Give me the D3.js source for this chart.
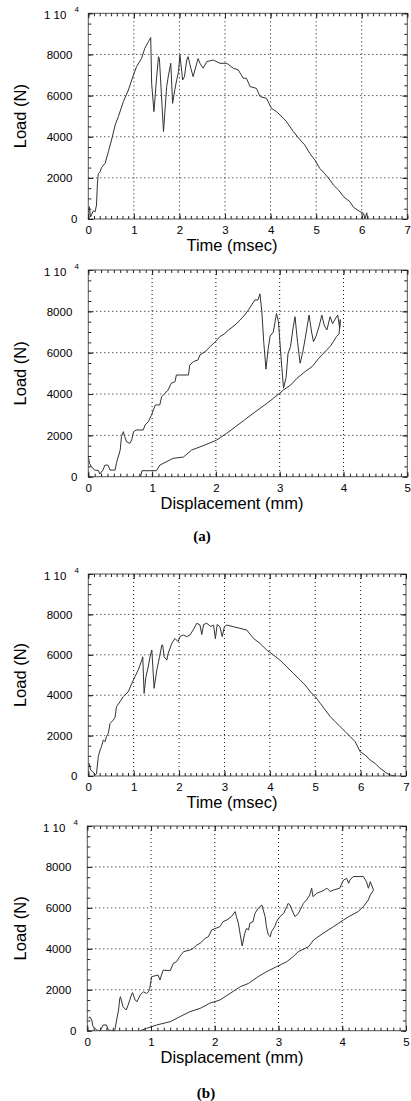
<!DOCTYPE html>
<html>
<head>
<meta charset="utf-8">
<script src="https://cdn.jsdelivr.net/npm/d3@7"></script>
<style>
  html, body { margin: 0; padding: 0; background: #fff; }
  svg { display: block; }
</style>
</head>
<body>
<svg id="chart" width="411" height="1101"></svg>
<script>
// ---- data: [x, load N] ----
var loadTicks = [0, 2000, 4000, 6000, 8000];

// (a) load vs time
var timeA = [[0,0],[0.02,600],[0.05,100],[0.11,400],[0.15,350],[0.18,680],[0.2,1730],[0.22,2200],
  [0.26,2300],[0.29,2500],[0.37,2710],[0.44,3270],[0.51,3840],[0.59,4570],[0.66,4980],[0.77,5710],
  [0.88,6270],[0.99,7000],[1.06,7410],[1.17,7810],[1.24,8300],[1.32,8620],[1.37,8820],[1.39,6600],
  [1.44,5220],[1.5,6900],[1.54,7890],[1.56,7800],[1.65,4250],[1.72,6440],[1.76,7000],[1.81,7570],
  [1.85,5620],[1.9,6300],[1.94,6760],[1.98,7160],[2.01,7980],[2.07,6760],[2.11,6920],[2.16,7730],
  [2.19,7890],[2.25,7330],[2.3,6920],[2.34,7250],[2.41,7800],[2.45,7570],[2.52,7330],[2.6,7650],
  [2.74,7730],[2.89,7570],[3.04,7570],[3.11,7450],[3.18,7330],[3.29,7250],[3.4,6840],[3.47,6840],
  [3.55,6440],[3.69,6350],[3.77,5950],[3.91,5870],[4.02,5380],[4.13,5220],[4.28,4900],[4.35,4730],
  [4.5,4250],[4.65,3840],[4.75,3600],[4.86,3190],[4.97,2870],[5.08,2460],[5.19,2200],[5.3,1900],
  [5.38,1650],[5.49,1410],[5.6,1090],[5.74,840],[5.82,570],[5.96,360],[6.04,280],[6.07,0],
  [6.11,300],[6.13,0]];

// (a) load vs displacement
var dispALoad = [[0,970],[0.02,645],[0.05,480],[0.1,320],[0.16,300],[0.18,130],[0.23,320],[0.26,560],
  [0.31,560],[0.34,320],[0.42,320],[0.44,645],[0.5,1290],[0.52,1940],[0.55,2180],[0.57,1940],
  [0.6,1690],[0.65,1610],[0.68,1780],[0.71,2180],[0.75,2260],[0.86,2260],[0.89,2500],[0.94,2660],
  [0.99,2980],[1.02,3230],[1.05,3470],[1.12,3470],[1.15,3870],[1.2,4030],[1.25,4190],[1.3,4520],
  [1.36,4600],[1.38,4920],[1.57,4920],[1.59,5400],[1.65,5570],[1.72,5650],[1.75,5890],[1.83,6050],
  [1.91,6290],[1.99,6530],[2.06,6770],[2.14,6930],[2.2,7100],[2.3,7340],[2.38,7580],[2.45,7820],
  [2.51,8070],[2.56,8310],[2.61,8550],[2.66,8550],[2.69,8850],[2.72,8000],[2.75,6500],[2.785,5200],
  [2.82,6200],[2.85,6800],[2.9,7000],[2.95,7900],[2.98,7500],[3.02,5800],[3.06,4280],[3.1,4800],
  [3.13,5950],[3.17,6300],[3.21,7200],[3.24,7740],[3.28,6500],[3.32,5490],[3.36,6000],[3.4,6700],
  [3.46,7820],[3.5,7000],[3.53,6530],[3.57,6800],[3.62,7300],[3.66,7820],[3.7,7300],[3.74,7100],
  [3.79,7740],[3.83,7400],[3.86,7580],[3.91,7820],[3.94,7180],[3.95,7600]];
var dispAUnload = [[3.95,7600],[3.93,6900],[3.89,6780],[3.84,6530],[3.79,6300],[3.74,6150],[3.61,5720],
  [3.51,5330],[3.4,5090],[3.27,4760],[3.17,4430],[3.06,4200],[3.0,4040],[2.9,3790],[2.8,3550],
  [2.6,3100],[2.45,2750],[2.3,2400],[2.17,2100],[2.01,1770],[1.8,1500],[1.62,1290],[1.49,950],
  [1.33,890],[1.12,560],[1.07,290],[0.84,290],[0.82,0]];

// (b) load vs time
var timeB = [[0,630],[0.02,630],[0.05,300],[0.1,215],[0.15,50],[0.18,100],[0.22,960],[0.26,1290],
  [0.29,1450],[0.33,1780],[0.37,1700],[0.4,1950],[0.44,2110],[0.48,2600],[0.55,2770],[0.59,2900],
  [0.62,3430],[0.7,3680],[0.77,3930],[0.88,4170],[0.96,4590],[1.03,4920],[1.1,5250],[1.18,5740],
  [1.2,5900],[1.23,4090],[1.27,4920],[1.32,5400],[1.36,5900],[1.4,6240],[1.45,4340],[1.51,5250],
  [1.57,5900],[1.62,6480],[1.64,6480],[1.67,5900],[1.73,5740],[1.76,6070],[1.84,6570],[1.91,6810],
  [1.98,6650],[2.02,6900],[2.09,6980],[2.17,6900],[2.24,6980],[2.31,7230],[2.39,7560],[2.46,7480],
  [2.5,7000],[2.54,7500],[2.61,7560],[2.7,7400],[2.76,7470],[2.8,6800],[2.84,7500],[2.9,7390],
  [2.95,6900],[3.0,7400],[3.05,7470],[3.2,7390],[3.34,7310],[3.49,7230],[3.64,6810],[3.78,6570],
  [3.93,6240],[4.08,5990],[4.22,5740],[4.37,5410],[4.52,5080],[4.67,4750],[4.78,4500],[4.89,4170],
  [5.0,3930],[5.11,3600],[5.22,3270],[5.33,2940],[5.44,2690],[5.55,2440],[5.66,2200],[5.77,1950],
  [5.88,1700],[5.99,1200],[6.1,1040],[6.21,790],[6.32,620],[6.43,380],[6.58,130],[6.65,50],[6.76,0]];

// (b) load vs displacement
var dispBLoad = [[0.016,600],[0.04,680],[0.07,520],[0.09,195],[0.15,30],[0.2,0],[0.25,280],[0.3,280],
  [0.33,30],[0.43,0],[0.46,520],[0.49,1010],[0.51,1580],[0.52,1660],[0.56,1170],[0.61,1010],
  [0.64,1250],[0.7,1820],[0.71,1860],[0.75,1500],[0.78,1420],[0.83,1750],[0.88,1900],[0.93,1820],
  [0.96,1900],[0.98,2070],[1.01,2640],[1.11,2720],[1.14,2480],[1.19,2960],[1.3,2930],[1.35,3290],
  [1.4,3370],[1.45,3620],[1.51,3860],[1.61,3940],[1.66,4020],[1.72,4190],[1.77,4270],[1.85,4510],
  [1.9,4590],[1.95,4920],[2.08,5080],[2.13,5330],[2.19,5410],[2.26,5570],[2.32,5820],[2.34,5570],
  [2.37,5250],[2.4,4680],[2.43,4140],[2.47,4760],[2.5,5000],[2.53,4920],[2.55,5250],[2.6,5330],
  [2.63,5730],[2.68,5980],[2.74,6140],[2.76,5900],[2.79,5570],[2.81,5080],[2.84,4680],[2.87,4590],
  [2.89,4840],[2.94,5080],[2.97,5330],[3.02,5570],[3.08,5730],[3.13,6060],[3.15,6220],[3.18,6140],
  [3.21,5900],[3.26,5570],[3.31,5730],[3.34,5900],[3.39,6220],[3.44,6390],[3.49,6630],[3.52,6960],
  [3.54,6550],[3.6,6710],[3.7,6840],[3.76,6960],[3.81,6800],[3.86,6870],[3.96,6960],[4.02,7360],
  [4.07,7440],[4.1,7200],[4.12,7360],[4.17,7530],[4.28,7530],[4.33,7530],[4.38,7280],[4.41,6960],
  [4.44,7280],[4.46,7120],[4.49,6870]];
var dispBUnload = [[4.49,6870],[4.44,6630],[4.41,6390],[4.33,6060],[4.25,5820],[4.1,5570],[4.02,5410],
  [3.86,5080],[3.7,4760],[3.55,4430],[3.47,4100],[3.31,3860],[3.23,3620],[3.13,3370],[2.97,3130],
  [2.81,2880],[2.68,2640],[2.53,2310],[2.4,2150],[2.24,1820],[2.08,1500],[1.92,1340],[1.77,1090],
  [1.61,930],[1.45,680],[1.3,440],[1.09,280],[0.93,115],[0.83,0]];

var FONT = "'Liberation Sans', Arial, Helvetica, sans-serif";
var svg = d3.select("#chart");
svg.append("rect").attr("width", 411).attr("height", 1101).attr("fill", "#fff");

var panels = [
  {box: [88.3, 13.3, 407.3, 219],   xmax: 7, xsub: 8,  title: "Time (msec)",       series: [timeA]},
  {box: [88.3, 270, 407.3, 476.7],  xmax: 5, xsub: 10, title: "Displacement (mm)", series: [dispALoad, dispAUnload]},
  {box: [88.3, 574, 406, 776],      xmax: 7, xsub: 8,  title: "Time (msec)",       series: [timeB]},
  {box: [87.3, 826, 406, 1030.7],   xmax: 5, xsub: 10, title: "Displacement (mm)", series: [dispBLoad, dispBUnload]}
];

function drawPanel(p) {
  var x0 = p.box[0], y0 = p.box[1], x1 = p.box[2], y1 = p.box[3];
  var x = d3.scaleLinear().domain([0, p.xmax]).range([x0, x1]);
  var y = d3.scaleLinear().domain([0, 10000]).range([y1, y0]);
  var g = svg.append("g");

  // dotted grid at the major ticks
  g.selectAll("line.vg").data(d3.range(1, p.xmax)).join("line")
    .attr("x1", function(d) { return x(d); }).attr("x2", function(d) { return x(d); })
    .attr("y1", y0).attr("y2", y1);
  g.selectAll("line.hg").data(loadTicks.slice(1)).join("line")
    .attr("y1", function(d) { return y(d); }).attr("y2", function(d) { return y(d); })
    .attr("x1", x0).attr("x2", x1);
  g.selectAll("line")
    .attr("stroke", "#111").attr("stroke-width", 1).attr("stroke-dasharray", "1,3");

  // curves
  var line = d3.line().x(function(d) { return x(d[0]); }).y(function(d) { return y(d[1]); });
  p.series.forEach(function(s) {
    g.append("path").attr("d", line(s))
      .attr("fill", "none").attr("stroke", "#333").attr("stroke-width", 1)
      .attr("stroke-linejoin", "round");
  });

  // frame
  g.append("rect").attr("x", x0).attr("y", y0).attr("width", x1 - x0).attr("height", y1 - y0)
    .attr("fill", "none").attr("stroke", "#555").attr("stroke-width", 1);

  // inward ticks on all four sides
  var minorX = d3.range(0, p.xmax * p.xsub + 1).map(function(i) { return i / p.xsub; });
  var minorY = d3.range(0, 21).map(function(i) { return i * 500; });
  var majorX = d3.range(0, p.xmax + 1);
  var majorY = loadTicks.concat([10000]);
  function ticks(axis, tx, ty) {
    var a = g.append("g").attr("transform", "translate(" + tx + "," + ty + ")").call(axis);
    a.select(".domain").remove();
    a.selectAll(".tick line").attr("stroke", "#222");
    return a;
  }
  ticks(d3.axisBottom(x).tickValues(minorX).tickSize(-3).tickFormat(""), 0, y1);
  ticks(d3.axisTop(x).tickValues(minorX).tickSize(-3).tickFormat(""), 0, y0);
  ticks(d3.axisLeft(y).tickValues(minorY).tickSize(-3).tickFormat(""), x0, 0);
  ticks(d3.axisRight(y).tickValues(minorY).tickSize(-3).tickFormat(""), x1, 0);
  ticks(d3.axisTop(x).tickValues(majorX).tickSize(-5).tickFormat(""), 0, y0);
  ticks(d3.axisRight(y).tickValues(majorY).tickSize(-5).tickFormat(""), x1, 0);

  var bx = ticks(d3.axisBottom(x).tickValues(majorX).tickSize(-5).tickPadding(7)
    .tickFormat(d3.format("d")), 0, y1);
  bx.attr("font-family", FONT).attr("font-size", 11.5);
  bx.selectAll("text").attr("fill", "#000");

  var ly = ticks(d3.axisLeft(y).tickValues(majorY).tickSize(-5).tickPadding(16)
    .tickFormat(function(d) { return d === 10000 ? "" : d; }), x0, 0);
  ly.attr("font-family", FONT).attr("font-size", 11.5);
  ly.selectAll("text").attr("fill", "#000")
    .filter(function(d) { return d === 0; }).attr("x", -11);

  // the "1 10^4" top label
  g.append("text").attr("font-family", FONT).attr("font-size", 11.5).attr("fill", "#000")
    .attr("x", x0 - 22).attr("y", y0 + 5.5).attr("text-anchor", "end").text("1 10");
  g.append("text").attr("font-family", FONT).attr("font-size", 8).attr("fill", "#000")
    .attr("x", x0 - 11.5).attr("y", y0 - 1.5).attr("text-anchor", "middle").text("4");

  // axis titles
  g.append("text").attr("font-family", FONT).attr("font-size", 16.5).attr("fill", "#000")
    .attr("text-anchor", "middle")
    .attr("transform", "translate(21," + ((y0 + y1) / 2) + ") rotate(-90)")
    .attr("dy", "0.3em").text("Load (N)");
  g.append("text").attr("font-family", FONT).attr("font-size", 16.5).attr("fill", "#000")
    .attr("text-anchor", "middle").attr("x", 232).attr("y", y1 + 32).text(p.title);
}

panels.forEach(drawPanel);

// sub-figure letters
svg.append("text").attr("x", 202).attr("y", 541).text("(a)");
svg.append("text").attr("x", 206).attr("y", 1098).text("(b)");
svg.selectAll("svg > text")
  .attr("font-family", "'Liberation Serif', 'Times New Roman', serif")
  .attr("font-weight", "bold").attr("font-size", 15).attr("text-anchor", "middle");
</script>
</body>
</html>
